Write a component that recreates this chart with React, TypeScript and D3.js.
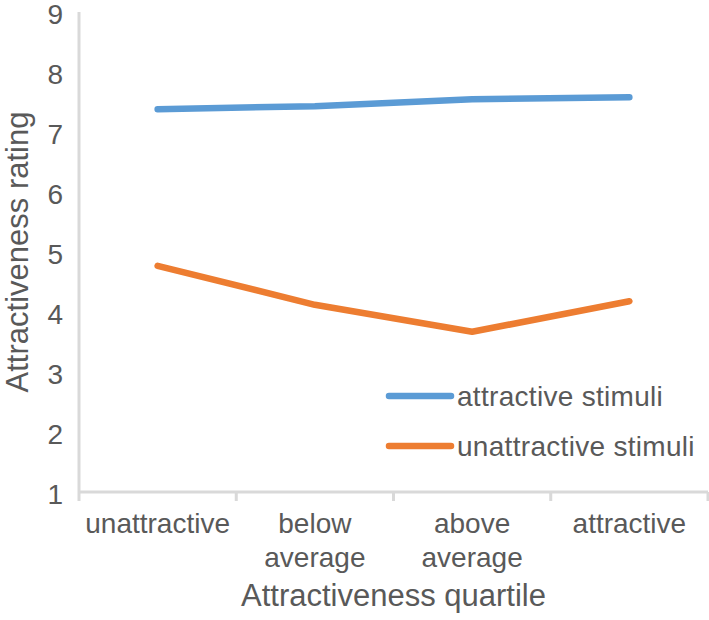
import React from "react";
import * as d3 from "d3";

const categories = ["unattractive", "below average", "above average", "attractive"];
const attractiveStimuli = [7.38, 7.43, 7.545, 7.58];
const unattractiveStimuli = [4.77, 4.12, 3.67, 4.18];
const yTicks = [1, 2, 3, 4, 5, 6, 7, 8, 9];
const seriesNames = ["attractive stimuli", "unattractive stimuli"];
const seriesColors = ["#5B9BD5", "#ED7D31"];

const W = 709;
const H = 620;
const left = 79;
const right = 708;
const top = 12;
const bottom = 492;
const FONT = "'Liberation Sans', Arial, sans-serif";
const TEXT = "#595959";
const AXIS = "#D9D9D9";

export default function App() {
  const x = d3.scaleBand<string>().domain(categories).range([left, right]).paddingInner(0).paddingOuter(0);
  const y = d3.scaleLinear().domain([1, 9]).range([bottom, top]);
  const line = d3
    .line<number>()
    .x((_, i) => (x(categories[i]) as number) + x.bandwidth() / 2)
    .y((d) => y(d));
  const series = [attractiveStimuli, unattractiveStimuli];
  const boundaries = categories.map((c) => x(c) as number).concat([right]);

  return (
    <svg width={W} height={H} style={{ position: "absolute", left: 0, top: 0, background: "#fff" }} fontFamily={FONT}>
      {/* axes */}
      <line x1={left} x2={left} y1={top} y2={bottom} stroke={AXIS} strokeWidth={3} />
      <line x1={left} x2={right} y1={bottom} y2={bottom} stroke={AXIS} strokeWidth={3} />
      {boundaries.map((b, i) => (
        <line key={i} x1={b} x2={b} y1={bottom} y2={bottom + 9} stroke={AXIS} strokeWidth={3} />
      ))}
      {/* y tick labels */}
      {yTicks.map((t) => (
        <text key={t} x={63} y={y(t)} dy="0.42em" textAnchor="end" fontSize={28} fill={TEXT}>
          {t}
        </text>
      ))}
      {/* x tick labels */}
      {categories.map((c) => {
        const cx = (x(c) as number) + x.bandwidth() / 2;
        const parts = c.split(" ");
        return (
          <text key={c} x={cx} y={533} textAnchor="middle" fontSize={28} fill={TEXT}>
            {parts.map((p, i) => (
              <tspan key={i} x={cx} dy={i === 0 ? 0 : 34}>
                {p}
              </tspan>
            ))}
          </text>
        );
      })}
      {/* axis titles */}
      <text x={(left + right) / 2} y={606} textAnchor="middle" fontSize={31} fill={TEXT}>
        Attractiveness quartile
      </text>
      <text
        transform={`translate(28, ${(top + bottom) / 2}) rotate(-90)`}
        textAnchor="middle"
        fontSize={31}
        fill={TEXT}
      >
        Attractiveness rating
      </text>
      {/* lines */}
      {series.map((s, i) => (
        <path
          key={i}
          d={line(s) as string}
          fill="none"
          stroke={seriesColors[i]}
          strokeWidth={6.5}
          strokeLinecap="round"
          strokeLinejoin="round"
        />
      ))}
      {/* legend */}
      {seriesNames.map((n, i) => {
        const ly = 396 + i * 50;
        return (
          <g key={n}>
            <line x1={389} x2={451} y1={ly} y2={ly} stroke={seriesColors[i]} strokeWidth={6.5} strokeLinecap="round" />
            <text x={457} y={ly} dy="0.36em" fontSize={28} fill={TEXT} letterSpacing={0.3}>
              {n}
            </text>
          </g>
        );
      })}
    </svg>
  );
}
